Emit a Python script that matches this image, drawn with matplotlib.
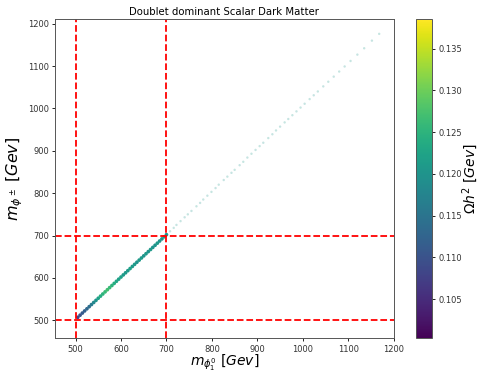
import matplotlib
matplotlib.use("Agg")
import matplotlib.pyplot as plt

# dense part of the band (below 700 GeV)
m_neutral_low = [505, 510, 515, 520, 525, 530, 535, 540, 545, 550, 555, 560, 565, 570,
                 575, 580, 585, 590, 595, 600, 605, 610, 615, 620, 625, 630, 635, 640,
                 645, 650, 655, 660, 665, 670, 675, 680, 685, 690, 695, 700]
m_charged_low = [507, 512, 517, 522, 527, 532, 537, 542, 547, 552, 557, 562, 567, 572,
                 577, 582, 587, 592, 597, 602, 607, 612, 617, 622, 627, 632, 637, 642,
                 647, 652, 657, 662, 667, 672, 677, 682, 687, 692, 697, 702]
omega_low = [0.108, 0.110, 0.111, 0.112, 0.113, 0.114, 0.116, 0.118, 0.120, 0.122,
             0.124, 0.125, 0.126, 0.127, 0.126, 0.125, 0.124, 0.123, 0.122, 0.122,
             0.121, 0.121, 0.121, 0.122, 0.121, 0.121, 0.120, 0.121, 0.121, 0.120,
             0.121, 0.120, 0.121, 0.120, 0.120, 0.121, 0.120, 0.120, 0.121, 0.120]

# sparse, faint part (above 700 GeV)
m_neutral_high = [708, 716, 722, 731, 740, 747, 755, 766, 774, 781, 790, 799, 808, 815,
                  826, 834, 843, 850, 861, 869, 878, 887, 896, 905, 913, 924, 933, 941,
                  950, 960, 968, 977, 986, 995, 1004, 1015, 1024, 1033, 1045, 1056,
                  1068, 1080, 1092, 1105, 1120, 1135, 1152, 1168]
m_charged_high = [710, 718, 725, 734, 743, 750, 758, 769, 777, 785, 794, 803, 812, 820,
                  831, 839, 848, 855, 866, 874, 884, 893, 902, 911, 919, 930, 939, 948,
                  957, 967, 975, 984, 993, 1002, 1011, 1022, 1031, 1040, 1052, 1063,
                  1075, 1087, 1099, 1112, 1127, 1142, 1160, 1176]
omega_high = [0.120, 0.121, 0.120, 0.121, 0.120, 0.121, 0.120, 0.121, 0.120, 0.121,
              0.120, 0.121, 0.120, 0.121, 0.120, 0.121, 0.120, 0.121, 0.120, 0.121,
              0.120, 0.121, 0.120, 0.121, 0.120, 0.121, 0.120, 0.121, 0.120, 0.121,
              0.120, 0.121, 0.120, 0.121, 0.120, 0.121, 0.120, 0.121, 0.120, 0.121,
              0.120, 0.121, 0.120, 0.121, 0.120, 0.121, 0.120, 0.121]

x_cuts = [500, 700]
y_cuts = [500, 700]

fig = plt.figure(figsize=(4.79, 3.74), dpi=100)
ax = fig.add_axes([0.115, 0.095, 0.707, 0.853])
cax = fig.add_axes([0.868, 0.095, 0.034, 0.853])

vmin, vmax = 0.1003, 0.1385
sc = ax.scatter(m_neutral_low, m_charged_low, c=omega_low, cmap="viridis",
                vmin=vmin, vmax=vmax, s=7, marker="o", linewidths=0)
ax.scatter(m_neutral_high, m_charged_high, c=omega_high, cmap="viridis",
           vmin=vmin, vmax=vmax, s=3, marker="o", linewidths=0, alpha=0.25)

for xv in x_cuts:
    ax.axvline(xv, color="red", linestyle="--", linewidth=1.3)
for yv in y_cuts:
    ax.axhline(yv, color="red", linestyle="--", linewidth=1.3)

ax.set_xlim(455, 1200)
ax.set_ylim(457, 1210)
ax.set_xticks([500, 600, 700, 800, 900, 1000, 1100, 1200])
ax.set_yticks([500, 600, 700, 800, 900, 1000, 1100, 1200])
ax.tick_params(labelsize=6, length=2.5, width=0.6, pad=2, labelcolor="#333333")
for sp in ax.spines.values():
    sp.set_linewidth(0.7)
    sp.set_color("#555555")

ax.set_title("Doublet dominant Scalar Dark Matter", fontsize=7.3, pad=3)
ax.set_xlabel(r"$m_{\phi_1^0}\ [Gev]$", fontsize=10)
ax.xaxis.set_label_coords(0.5, -0.044)
ax.set_ylabel(r"$m_{\phi^\pm}\ [Gev]$", fontsize=11.5)
ax.yaxis.set_label_coords(-0.088, 0.5)

cb = fig.colorbar(sc, cax=cax)
cb.set_ticks([0.105, 0.110, 0.115, 0.120, 0.125, 0.130, 0.135])
cb.ax.tick_params(labelsize=6, length=2.5, width=0.6, pad=2, labelcolor="#333333")
cb.outline.set_linewidth(0.7)
cb.outline.set_edgecolor("#555555")
cb.set_label(r"$\Omega h^2\ [Gev]$", fontsize=10)
cb.ax.yaxis.set_label_coords(2.7, 0.5)

fig.savefig("out.png", dpi=100)
